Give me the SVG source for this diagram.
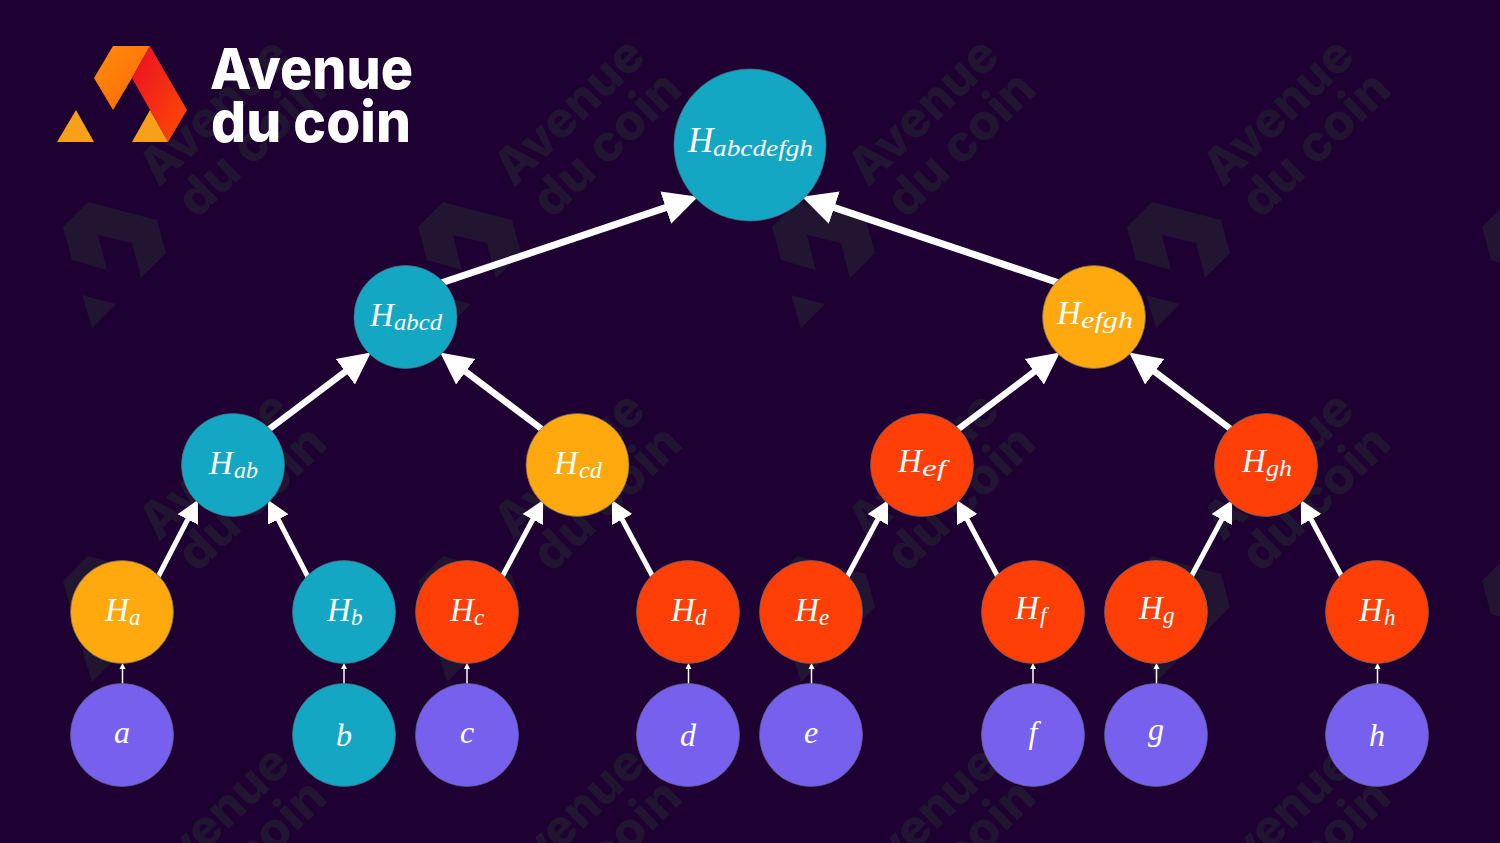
<svg xmlns="http://www.w3.org/2000/svg" width="1500" height="843" viewBox="0 0 1500 843">
<style>
.teal{fill:#14a7c4}.amber{fill:#ffa90f}.red{fill:#ff3f05}.violet{fill:#7860ef}
circle{stroke:#5c6478;stroke-opacity:.7;stroke-width:1}
.h,.s,.l{font-family:"Liberation Serif","Times New Roman",serif;font-style:italic;fill:#fff}
.h{font-size:33px}.s{font-size:23px}.l{font-size:32px;text-anchor:middle}
.brand{font-family:Inter,Lato,"Liberation Sans",sans-serif;font-weight:800}
.wm{fill:#211532}
.lg{stroke:#fff;stroke-width:7;fill:none}
.a1{marker-end:url(#hRoot)}
.a2{stroke-width:6.5;marker-end:url(#hMid)}
.a3{stroke-width:5;marker-end:url(#hLow)}
.a4{stroke-width:1.5;marker-end:url(#hLeaf)}
</style>
<defs>
<linearGradient id="gOrange" x1="0" y1="0" x2="1" y2="1"><stop offset="0" stop-color="#ff8e0c"/><stop offset="1" stop-color="#ff6505"/></linearGradient>
<linearGradient id="gRed" x1="0" y1="0" x2="1" y2="1"><stop offset="0" stop-color="#ec0c24"/><stop offset="1" stop-color="#ff4d04"/></linearGradient>
<marker id="hRoot" markerUnits="userSpaceOnUse" markerWidth="36" markerHeight="36" viewBox="0 -18 36 36" refX="3" refY="0" orient="auto"><path d="M0,-17 L34,0 L0,17Z" fill="#fff"/></marker>
<marker id="hMid" markerUnits="userSpaceOnUse" markerWidth="34" markerHeight="34" viewBox="0 -17 34 34" refX="3" refY="0" orient="auto"><path d="M0,-16 L32,0 L0,16Z" fill="#fff"/></marker>
<marker id="hLow" markerUnits="userSpaceOnUse" markerWidth="24" markerHeight="24" viewBox="0 -12 24 24" refX="2" refY="0" orient="auto"><path d="M0,-11.500 L22,0 L0,11.500Z" fill="#fff"/></marker>
<marker id="hLeaf" markerUnits="userSpaceOnUse" markerWidth="8" markerHeight="8" viewBox="0 -4 8 8" refX="2" refY="0" orient="auto"><path d="M0,-3 L6,0 L0,3Z" fill="#fff"/></marker>
<g id="wmMark" class="wm">
<path d="M88,202 L157,220 L166,253 L141,278 L132,243 L98,235 L107,270 L72,260 L63,227Z"/>
<path d="M82,295 L116,304 L92,328Z"/>
</g>
<g id="wmWord" class="wm brand" font-size="50">
<text transform="translate(159,188) rotate(-44)" textLength="186" lengthAdjust="spacingAndGlyphs">Avenue</text>
<text transform="translate(197,220) rotate(-44)" textLength="184" lengthAdjust="spacingAndGlyphs">du coin</text>
</g>
</defs>
<rect id="background" width="1500" height="843" fill="#1e0033"/>
<g id="watermark">
<use href="#wmMark"/><use href="#wmMark" x="355"/><use href="#wmMark" x="709"/><use href="#wmMark" x="1064"/><use href="#wmMark" x="1419"/>
<use href="#wmMark" y="354"/><use href="#wmMark" x="355" y="354"/><use href="#wmMark" x="709" y="354"/><use href="#wmMark" x="1064" y="354"/><use href="#wmMark" x="1419" y="354"/>
<use href="#wmWord"/><use href="#wmWord" x="355"/><use href="#wmWord" x="709"/><use href="#wmWord" x="1064"/>
<use href="#wmWord" y="354"/><use href="#wmWord" x="355" y="354"/><use href="#wmWord" x="709" y="354"/><use href="#wmWord" x="1064" y="354"/>
<use href="#wmWord" y="708"/><use href="#wmWord" x="355" y="708"/><use href="#wmWord" x="709" y="708"/><use href="#wmWord" x="1064" y="708"/>
</g>
<g id="logo">
<path d="M113,46 H150 L132,78 L113,110 L94,78Z" fill="url(#gOrange)"/>
<path d="M150,46 L187,110 L168,142 L150,110 L132,78Z" fill="url(#gRed)"/>
<path d="M76,110 L94,142 H57Z" fill="#f9a01b"/>
<path d="M150,110 L168,142 H132Z" fill="#f9a01b"/>
<text class="brand" x="210" y="89" font-size="57" fill="#fff" textLength="203" lengthAdjust="spacingAndGlyphs">Avenue</text>
<text class="brand" x="211" y="142" font-size="57" fill="#fff" textLength="200" lengthAdjust="spacingAndGlyphs">du coin</text>
</g>
<g id="connectors" class="lg">
<path class="a1" d="M441,283 L668.6,206.6"/>
<path class="a1" d="M1059,283 L831.4,206.6"/>
<path class="a2" d="M268,430 L347.7,369.9"/>
<path class="a2" d="M543,430 L463.3,369.9"/>
<path class="a2" d="M957,430 L1036.7,369.9"/>
<path class="a2" d="M1232,430 L1152.3,369.9"/>
<path class="a3" d="M158,577 L188.7,517.7"/>
<path class="a3" d="M308,577 L277.3,517.7"/>
<path class="a3" d="M502,577 L533.7,517.7"/>
<path class="a3" d="M653,577 L621.3,517.7"/>
<path class="a3" d="M847,577 L878.7,517.7"/>
<path class="a3" d="M998,577 L966.3,517.7"/>
<path class="a3" d="M1191,577 L1222.7,517.7"/>
<path class="a3" d="M1342,577 L1310.3,517.7"/>
<path class="a4" d="M122.500,686 V667"/>
<path class="a4" d="M344,686 V667"/>
<path class="a4" d="M467,686 V667"/>
<path class="a4" d="M688.500,686 V667"/>
<path class="a4" d="M811.500,686 V667"/>
<path class="a4" d="M1033,686 V667"/>
<path class="a4" d="M1156.500,686 V667"/>
<path class="a4" d="M1377.500,686 V667"/>
</g>
<g id="node-abcdefgh"><circle class="teal" cx="750" cy="145" r="76"/><text class="h" x="688" y="152" style="font-size:35px">H</text><text class="s" x="713" y="156" textLength="100" lengthAdjust="spacingAndGlyphs">abcdefgh</text></g>
<g id="node-abcd"><circle class="teal" cx="405.500" cy="317" r="51.500"/><text class="h" x="370" y="326">H</text><text class="s" x="394" y="330" textLength="48" lengthAdjust="spacingAndGlyphs">abcd</text></g>
<g id="node-efgh"><circle class="amber" cx="1094" cy="317" r="51.500"/><text class="h" x="1057" y="324">H</text><text class="s" x="1081" y="328" textLength="52" lengthAdjust="spacingAndGlyphs">efgh</text></g>
<g id="node-ab"><circle class="teal" cx="233" cy="465" r="51.500"/><text class="h" x="209" y="474">H</text><text class="s" x="234" y="478" textLength="24" lengthAdjust="spacingAndGlyphs">ab</text></g>
<g id="node-cd"><circle class="amber" cx="577.500" cy="465" r="51.500"/><text class="h" x="554" y="474">H</text><text class="s" x="579" y="478" textLength="23" lengthAdjust="spacingAndGlyphs">cd</text></g>
<g id="node-ef"><circle class="red" cx="922" cy="465" r="51.500"/><text class="h" x="898" y="472">H</text><text class="s" x="922" y="476" textLength="24" lengthAdjust="spacingAndGlyphs">ef</text></g>
<g id="node-gh"><circle class="red" cx="1266" cy="465" r="51.500"/><text class="h" x="1242" y="472">H</text><text class="s" x="1266" y="476" textLength="26" lengthAdjust="spacingAndGlyphs">gh</text></g>
<g id="node-ha"><circle class="amber" cx="122" cy="612" r="51.500"/><text class="h" x="105" y="621">H</text><text class="s" x="129" y="625">a</text></g>
<g id="node-hb"><circle class="teal" cx="344" cy="612" r="51.500"/><text class="h" x="327" y="621">H</text><text class="s" x="351" y="625">b</text></g>
<g id="node-hc"><circle class="red" cx="467" cy="612" r="51.500"/><text class="h" x="450" y="621">H</text><text class="s" x="474" y="625">c</text></g>
<g id="node-hd"><circle class="red" cx="688" cy="612" r="51.500"/><text class="h" x="671" y="621">H</text><text class="s" x="695" y="625">d</text></g>
<g id="node-he"><circle class="red" cx="811" cy="612" r="51.500"/><text class="h" x="795" y="621">H</text><text class="s" x="819" y="625">e</text></g>
<g id="node-hf"><circle class="red" cx="1033" cy="612" r="51.500"/><text class="h" x="1015" y="619">H</text><text class="s" x="1040" y="623">f</text></g>
<g id="node-hg"><circle class="red" cx="1156" cy="612" r="51.500"/><text class="h" x="1139" y="619">H</text><text class="s" x="1163" y="623">g</text></g>
<g id="node-hh"><circle class="red" cx="1377" cy="612" r="51.500"/><text class="h" x="1359" y="621">H</text><text class="s" x="1384" y="625">h</text></g>
<g id="node-a"><circle class="violet" cx="122" cy="735" r="51.500"/><text class="l" x="122" y="743">a</text></g>
<g id="node-b"><circle class="teal" cx="344" cy="735" r="51.500"/><text class="l" x="344" y="746">b</text></g>
<g id="node-c"><circle class="violet" cx="467" cy="735" r="51.500"/><text class="l" x="467" y="743">c</text></g>
<g id="node-d"><circle class="violet" cx="688" cy="735" r="51.500"/><text class="l" x="688" y="746">d</text></g>
<g id="node-e"><circle class="violet" cx="811" cy="735" r="51.500"/><text class="l" x="811" y="743">e</text></g>
<g id="node-f"><circle class="violet" cx="1033" cy="735" r="51.500"/><text class="l" x="1033" y="743">f</text></g>
<g id="node-g"><circle class="violet" cx="1156" cy="735" r="51.500"/><text class="l" x="1156" y="740">g</text></g>
<g id="node-h"><circle class="violet" cx="1377" cy="735" r="51.500"/><text class="l" x="1377" y="746">h</text></g>
</svg>
